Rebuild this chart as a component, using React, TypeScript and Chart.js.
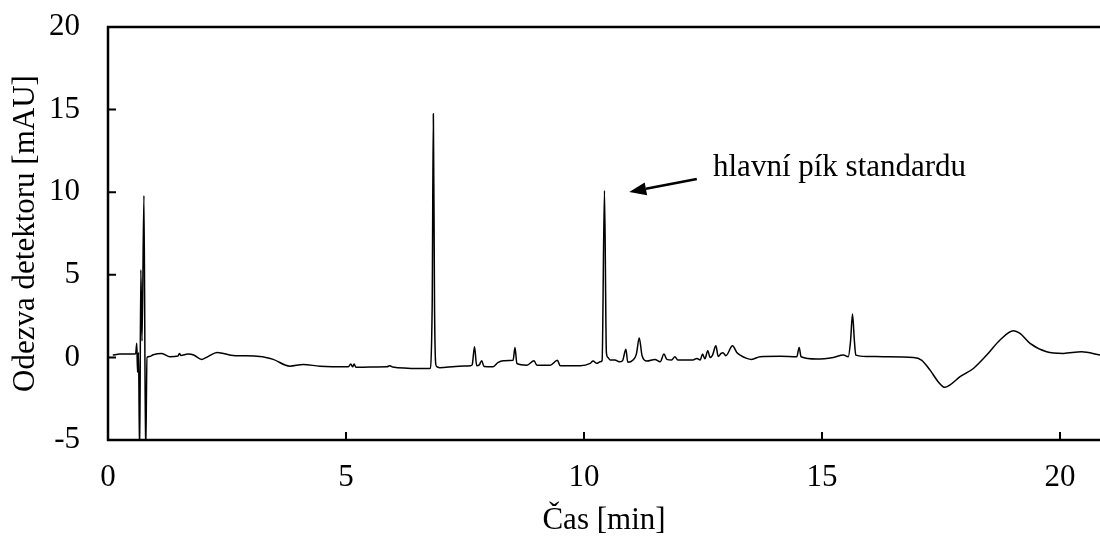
import React, { useEffect, useRef } from "react";
import { Chart, registerables } from "chart.js";

Chart.register(...registerables);

// Retention time [min]
const times: number[] = [
  0.10, 0.25, 0.50, 0.58, 0.605, 0.62, 0.64, 0.665, 0.69, 0.715, 0.755, 0.79, 0.82, 0.87, 0.95,
  1.13, 1.30, 1.47, 1.50, 1.53, 1.68, 1.80, 1.97, 2.10, 2.29, 2.45, 2.63, 3.19, 3.47, 3.82,
  4.10, 4.45, 5.05, 5.10, 5.14, 5.17, 5.21, 5.50, 5.86, 5.92, 5.98, 6.55, 6.76, 6.81, 6.835,
  6.86, 6.885, 6.91, 6.97, 7.30, 7.61, 7.65, 7.70, 7.745, 7.80, 7.85, 7.90, 8.09, 8.19, 8.30,
  8.51, 8.55, 8.59, 8.80, 8.95, 9.01, 9.29, 9.44, 9.50, 9.92, 10.13, 10.19, 10.27, 10.34, 10.38,
  10.43, 10.47, 10.50, 10.55, 10.65, 10.74, 10.81, 10.88, 10.92, 11.03, 11.10, 11.16, 11.22, 11.32,
  11.49, 11.60, 11.68, 11.74, 11.84, 11.91, 11.97, 12.29, 12.37, 12.44, 12.49, 12.54, 12.60, 12.65,
  12.70, 12.77, 12.82, 12.88, 12.92, 12.98, 13.12, 13.21, 13.28, 13.42, 13.52, 13.70, 14.12, 14.47,
  14.52, 14.56, 14.89, 15.24, 15.45, 15.55, 15.60, 15.64, 15.68, 15.71, 15.94, 16.29, 16.92, 17.09,
  17.27, 17.44, 17.58, 17.69, 17.90, 18.18, 18.46, 18.74, 19.02, 19.16, 19.37, 19.72, 20.07, 20.45,
  20.84,
];

// Detector response [mAU]
const signal: number[] = [
  0.14, 0.20, 0.20, 0.22, 0.85, -0.90, 0.30, -6.0, 5.3, 1.0, 9.8, -6.0, 0.00, 0.05, 0.16,
  0.24, 0.04, 0.08, 0.24, 0.12, 0.20, 0.15, -0.12, 0.05, 0.30, 0.22, 0.12, 0.06, -0.12, -0.53,
  -0.43, -0.53, -0.57, -0.40, -0.57, -0.40, -0.60, -0.58, -0.57, -0.50, -0.58, -0.67, -0.67, 3.0, 14.75,
  3.0, -0.40, -0.57, -0.62, -0.55, -0.50, -0.45, 0.64, -0.50, -0.45, -0.20, -0.55, -0.57, -0.32, -0.20,
  -0.17, 0.60, -0.37, -0.47, -0.20, -0.47, -0.47, -0.17, -0.50, -0.50, -0.36, -0.22, -0.36, -0.27, -0.20,
  10.1, 0.30, 0.00, -0.16, -0.16, -0.27, -0.20, 0.50, -0.30, -0.16, 0.20, 1.17, 0.10, -0.22,
  -0.12, -0.27, 0.20, -0.12, -0.16, 0.04, -0.16, -0.16, -0.06, -0.16, 0.20, -0.08, 0.40, 0.00,
  0.14, 0.70, 0.06, 0.24, 0.28, 0.10, 0.70, 0.30, 0.14, -0.06, -0.12, 0.04, 0.07, 0.04,
  0.60, 0.04, -0.10, 0.00, 0.14, 0.04, 1.00, 2.62, 1.00, 0.14, 0.06, 0.04, 0.00, -0.16,
  -0.77, -1.47, -1.81, -1.66, -1.17, -0.67, 0.14, 1.05, 1.61, 1.45, 0.85, 0.34, 0.24, 0.34,
  0.14,
];

const xTicks: number[] = [0, 5, 10, 15, 20];
const yTicks: number[] = [-5, 0, 5, 10, 15, 20];

const xTitle = "Čas [min]";
const yTitle = "Odezva detektoru [mAU]";
const annotationText = "hlavní pík standardu";
// annotation anchor points in data coordinates [min, mAU]
const annotationTextPos = { x: 12.71, y: 10.98 };
const arrowTail = { x: 12.37, y: 10.8 };
const arrowTip = { x: 10.95, y: 10.01 };

const FONT = '"Liberation Serif", "Times New Roman", serif';

export default function App() {
  const ref = useRef<HTMLCanvasElement | null>(null);

  useEffect(() => {
    const canvas = ref.current;
    if (!canvas) return;

    const framePlugin = {
      id: "frame",
      afterDraw(chart: any) {
        const { ctx, chartArea, scales } = chart;
        const { left, right, top, bottom } = chartArea;
        const xs = scales.x;
        const ys = scales.y;
        ctx.save();
        ctx.strokeStyle = "#000";
        ctx.lineWidth = 2.5;
        ctx.lineCap = "butt";
        // frame: left, bottom, top
        ctx.beginPath();
        ctx.moveTo(left, top);
        ctx.lineTo(right, top);
        ctx.moveTo(left, top - 1.25);
        ctx.lineTo(left, bottom + 1.25);
        ctx.moveTo(left - 1.25, bottom);
        ctx.lineTo(right, bottom);
        ctx.stroke();
        // inward tick marks
        ctx.lineWidth = 2;
        ctx.beginPath();
        for (const t of ys.ticks) {
          const y = ys.getPixelForValue(t.value);
          ctx.moveTo(left, y);
          ctx.lineTo(left + 8, y);
        }
        for (const t of xs.ticks) {
          const x = xs.getPixelForValue(t.value);
          ctx.moveTo(x, bottom);
          ctx.lineTo(x, bottom - 8);
        }
        ctx.stroke();

        // annotation
        const tx = xs.getPixelForValue(arrowTail.x);
        const ty = ys.getPixelForValue(arrowTail.y);
        const hx = xs.getPixelForValue(arrowTip.x);
        const hy = ys.getPixelForValue(arrowTip.y);
        const ang = Math.atan2(hy - ty, hx - tx);
        const headLen = 17;
        const headW = 6.5;
        const bx = hx - headLen * Math.cos(ang);
        const by = hy - headLen * Math.sin(ang);
        ctx.lineWidth = 2.5;
        ctx.beginPath();
        ctx.moveTo(tx, ty);
        ctx.lineTo(bx, by);
        ctx.stroke();
        ctx.fillStyle = "#000";
        ctx.beginPath();
        ctx.moveTo(hx, hy);
        ctx.lineTo(bx + headW * Math.sin(ang), by - headW * Math.cos(ang));
        ctx.lineTo(bx - headW * Math.sin(ang), by + headW * Math.cos(ang));
        ctx.closePath();
        ctx.fill();

        ctx.font = `31px ${FONT}`;
        ctx.textAlign = "left";
        ctx.textBaseline = "alphabetic";
        ctx.fillText(
          annotationText,
          xs.getPixelForValue(annotationTextPos.x),
          ys.getPixelForValue(annotationTextPos.y)
        );
        ctx.restore();
      },
    };

    const chart = new Chart(canvas, {
      type: "line",
      data: {
        datasets: [
          {
            data: times.map((t, i) => ({ x: t, y: signal[i] })),
            borderColor: "#000",
            borderWidth: 1.5,
            pointRadius: 0,
            fill: false,
            cubicInterpolationMode: "monotone",
          },
        ],
      },
      options: {
        responsive: false,
        animation: false,
        events: [],
        layout: { padding: { top: 27, left: 0, right: 0, bottom: 0 } },
        plugins: {
          legend: { display: false },
          tooltip: { enabled: false },
        },
        scales: {
          x: {
            type: "linear",
            min: 0,
            max: 20.84,
            grid: { display: false, drawTicks: false },
            border: { display: false },
            afterBuildTicks: (scale: any) => {
              scale.ticks = xTicks.map((v) => ({ value: v }));
            },
            afterFit: (scale: any) => {
              scale.height = 99;
              scale.paddingLeft = 0;
              scale.paddingRight = 0;
            },
            ticks: {
              padding: 19,
              maxRotation: 0,
              autoSkip: false,
              color: "#000",
              font: { family: FONT, size: 31 },
            },
            title: {
              display: true,
              text: xTitle,
              color: "#000",
              font: { family: FONT, size: 31 },
              padding: { top: 0, bottom: 0 },
            },
          },
          y: {
            type: "linear",
            min: -5,
            max: 20,
            grid: { display: false, drawTicks: false },
            border: { display: false },
            afterBuildTicks: (scale: any) => {
              scale.ticks = yTicks.map((v) => ({ value: v }));
            },
            afterFit: (scale: any) => {
              scale.width = 108;
              scale.paddingTop = 0;
              scale.paddingBottom = 0;
            },
            ticks: {
              padding: 28,
              autoSkip: false,
              color: "#000",
              font: { family: FONT, size: 31 },
            },
            title: {
              display: true,
              text: yTitle,
              color: "#000",
              font: { family: FONT, size: 31 },
              padding: { top: 7, bottom: 0 },
            },
          },
        },
      },
      plugins: [framePlugin],
    } as any);

    return () => chart.destroy();
  }, []);

  return (
    <div style={{ position: "fixed", left: 0, top: 0, width: 1100, height: 539, background: "#fff" }}>
      <canvas ref={ref} width={1100} height={539} style={{ display: "block" }} />
    </div>
  );
}
